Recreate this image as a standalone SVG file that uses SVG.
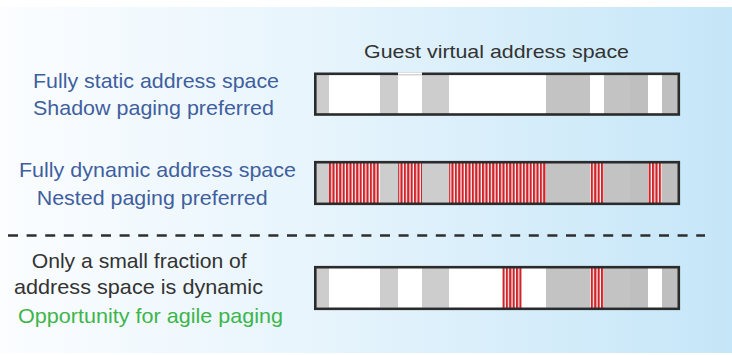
<svg xmlns="http://www.w3.org/2000/svg" width="732" height="355" viewBox="0 0 732 355">
  <defs>
    <linearGradient id="bg" x1="0" y1="0" x2="1" y2="0">
      <stop offset="0" stop-color="#fbfdff"/>
      <stop offset="0.45" stop-color="#e6f4fc"/>
      <stop offset="1" stop-color="#c5e6f8"/>
    </linearGradient>
    <pattern id="stripes" patternUnits="userSpaceOnUse" x="329" y="0" width="3.4" height="10">
      <rect x="0" y="0" width="3.4" height="10" fill="#ffffff"/>
      <rect x="0" y="0" width="2.2" height="10" fill="#cf2229"/>
    </pattern>
    <g id="segs">
      <rect x="316" y="74" width="13" height="40" fill="#cdcdcd"/>
      <rect x="380" y="74" width="18" height="40" fill="#cdcdcd"/>
      <rect x="422" y="74" width="27" height="40" fill="#cdcdcd"/>
      <rect x="546" y="74" width="44" height="40" fill="#c3c3c3"/>
      <rect x="604" y="74" width="26" height="40" fill="#c3c3c3"/>
      <rect x="630" y="74" width="18" height="40" fill="#bfbfbf"/>
      <rect x="662" y="74" width="17" height="40" fill="#bfbfbf"/>
    </g>
  </defs>
  <style>
    .lbl { font-family: "Liberation Sans", Arial, sans-serif; font-size: 21px; }
    .blue { fill: #3f5f9e; }
    .dark { fill: #333333; }
    .green { fill: #3db54b; }
    .bar { fill: none; stroke: #2b2b2b; stroke-width: 2.6; }
    .st { fill: url(#stripes); }
    .wh { fill: #ffffff; }
  </style>

  <rect x="0" y="0" width="732" height="355" fill="#ffffff"/>
  <rect x="0" y="7" width="732" height="346" fill="url(#bg)"/>

  <g id="title">
    <text class="lbl dark" x="364" y="58.3" textLength="265" lengthAdjust="spacingAndGlyphs" style="font-size:19px">Guest virtual address space</text>
  </g>

  <g id="static-label">
    <text class="lbl blue" x="33" y="88" textLength="246" lengthAdjust="spacingAndGlyphs">Fully static address space</text>
    <text class="lbl blue" x="33" y="115" textLength="241" lengthAdjust="spacingAndGlyphs">Shadow paging preferred</text>
  </g>

  <g id="dynamic-label">
    <text class="lbl blue" x="19" y="177.3" textLength="277" lengthAdjust="spacingAndGlyphs">Fully dynamic address space</text>
    <text class="lbl blue" x="36.7" y="205" textLength="231" lengthAdjust="spacingAndGlyphs">Nested paging preferred</text>
  </g>

  <g id="agile-label">
    <text class="lbl dark" x="31.7" y="267.7" textLength="215" lengthAdjust="spacingAndGlyphs">Only a small fraction of</text>
    <text class="lbl dark" x="14" y="293.5" textLength="249" lengthAdjust="spacingAndGlyphs">address space is dynamic</text>
    <text class="lbl green" x="18" y="322.7" textLength="265" lengthAdjust="spacingAndGlyphs">Opportunity for agile paging</text>
  </g>

  <g id="bar-static">
    <use href="#segs"/>
    <rect class="wh" x="329" y="74" width="51" height="40"/>
    <rect class="wh" x="398" y="72.5" width="24" height="41.5"/>
    <rect class="wh" x="449" y="74" width="97" height="40"/>
    <rect class="wh" x="590" y="74" width="14" height="40"/>
    <rect class="wh" x="648" y="74" width="14" height="40"/>
    <rect class="bar" x="315.3" y="73.8" width="363.5" height="40.7"/>
    <rect class="wh" x="398" y="72.3" width="24" height="2.5"/>
  </g>

  <g id="bar-dynamic">
    <use href="#segs" y="88.4"/>
    <rect class="st" x="329" y="163" width="51" height="41"/>
    <rect class="st" x="398" y="163" width="24" height="41"/>
    <rect class="st" x="449" y="163" width="97" height="41"/>
    <rect class="st" x="590" y="163" width="14" height="41"/>
    <rect class="st" x="648" y="163" width="14" height="41"/>
    <rect class="bar" x="315.3" y="162.2" width="363.5" height="41.6"/>
  </g>

  <g id="bar-agile">
    <use href="#segs" y="193.4"/>
    <rect class="wh" x="329" y="268" width="51" height="41"/>
    <rect class="wh" x="398" y="268" width="24" height="41"/>
    <rect class="wh" x="449" y="268" width="97" height="41"/>
    <rect class="st" x="502.3" y="268" width="19.4" height="41"/>
    <rect class="st" x="590" y="268" width="14" height="41"/>
    <rect class="wh" x="648" y="268" width="14" height="41"/>
    <rect class="bar" x="315.3" y="267.2" width="363.5" height="41.6"/>
  </g>

  <g id="connectors">
    <line x1="8" y1="235.5" x2="705" y2="235.5" stroke="#2e2e2e" stroke-width="2.6" stroke-dasharray="10 8.6"/>
  </g>
</svg>
